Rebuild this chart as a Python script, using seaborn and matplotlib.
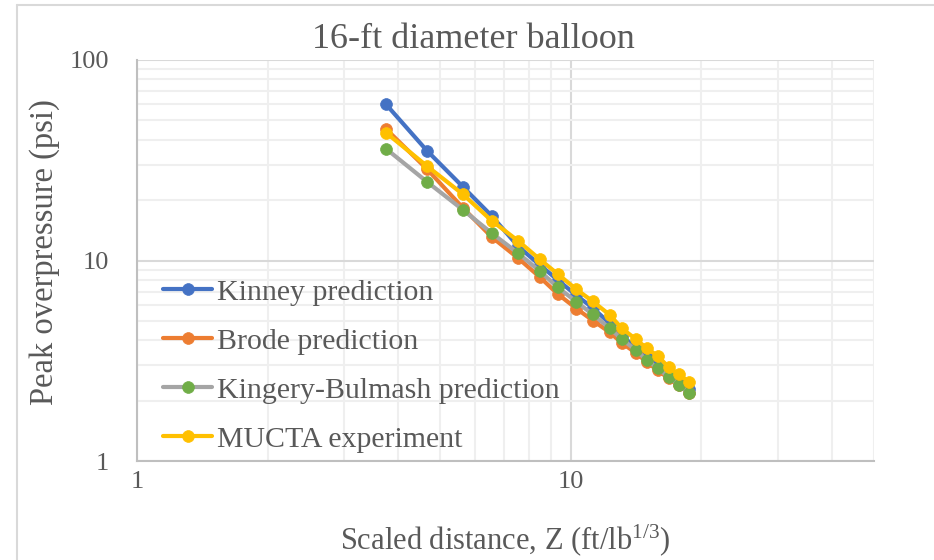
import matplotlib
matplotlib.use("Agg")
import matplotlib.pyplot as plt
from matplotlib.lines import Line2D
import seaborn as sns
import pandas as pd

# ---- data ----
z = [3.75, 4.66, 5.64, 6.57, 7.55, 8.48, 9.33, 10.3, 11.24, 12.3, 13.11,
     14.12, 14.96, 15.87, 16.82, 17.74, 18.7]
kinney = [60.1, 35.3, 23.3, 16.7, 11.8, 9.5, 8.0, 6.7, 5.8, 4.85, 4.2,
          3.7, 3.3, 3.0, 2.72, 2.48, 2.28]
brode = [45.3, 28.6, 18.3, 13.1, 10.3, 8.27, 6.81, 5.76, 5.02, 4.38, 3.88,
         3.46, 3.12, 2.83, 2.58, 2.38, 2.19]
kingery = [36.1, 24.7, 17.9, 13.7, 10.9, 8.86, 7.35, 6.23, 5.38, 4.59, 4.05,
           3.58, 3.19, 2.90, 2.62, 2.39, 2.19]
mucta = [43.4, 29.6, 21.4, 15.8, 12.56, 10.14, 8.56, 7.18, 6.25, 5.35, 4.59,
         4.05, 3.65, 3.34, 2.93, 2.71, 2.49]

series_names = ["Kinney prediction", "Brode prediction",
                "Kingery-Bulmash prediction", "MUCTA experiment"]
title = "16-ft diameter balloon"
xlabel = "Scaled distance, Z (ft/lb$^{1/3}$)"
ylabel = "Peak overpressure (psi)"
xticks = [1, 10]
yticks = [1, 10, 100]

# ---- styling ----
sns.set_theme(style="white")
plt.rcParams["font.family"] = ["Liberation Serif", "DejaVu Serif"]
plt.rcParams["mathtext.fontset"] = "custom"
plt.rcParams["mathtext.rm"] = "Liberation Serif"
plt.rcParams["mathtext.it"] = "Liberation Serif"
TXT = "#595959"

fig = plt.figure(figsize=(9.34, 5.6), dpi=100)
W, H = 934, 560
ax = fig.add_axes([137 / W, 1 - 461 / H, (874 - 137) / W, (461 - 60) / H])

line_colors = ["#4472C4", "#ED7D31", "#A5A5A5", "#FFC000"]
marker_colors = ["#4472C4", "#ED7D31", "#70AD47", "#FFC000"]
values = [kinney, brode, kingery, mucta]

for name, vals, lc, mc in zip(series_names, values, line_colors, marker_colors):
    df = pd.DataFrame({"z": z, "p": vals})
    sns.lineplot(data=df, x="z", y="p", ax=ax, color=lc, linewidth=3.0,
                 marker="o", markersize=8.5, markerfacecolor=mc,
                 markeredgecolor=mc, markeredgewidth=0.5, label=name,
                 solid_capstyle="round", zorder=3)

ax.set_xscale("log")
ax.set_yscale("log")
ax.set_xlim(1, 50)
ax.set_ylim(1, 100)

ax.set_xticks(xticks)
ax.set_xticklabels([str(t) for t in xticks])
ax.set_yticks(yticks)
ax.set_yticklabels([str(t) for t in yticks])
ax.xaxis.set_minor_locator(matplotlib.ticker.LogLocator(base=10, subs=range(2, 10)))
ax.yaxis.set_minor_locator(matplotlib.ticker.LogLocator(base=10, subs=range(2, 10)))
ax.xaxis.set_minor_formatter(matplotlib.ticker.NullFormatter())
ax.yaxis.set_minor_formatter(matplotlib.ticker.NullFormatter())

ax.grid(True, which="major", color="#d9d9d9", linewidth=1.5, zorder=0)
ax.grid(True, which="minor", color="#efefef", linewidth=1.5, zorder=0)
ax.set_axisbelow(True)
ax.tick_params(axis="both", which="both", length=0, labelsize=19,
               labelcolor=TXT)
ax.tick_params(axis="x", pad=7)
ax.tick_params(axis="y", pad=20)

for s in ["top", "right"]:
    ax.spines[s].set_visible(False)
for s in ["left", "bottom"]:
    ax.spines[s].set_color("#bfbfbf")
    ax.spines[s].set_linewidth(1.5)

ax.set_xlabel(xlabel, fontsize=22, color=TXT, labelpad=21)
ax.set_ylabel(ylabel, fontsize=23.5, color=TXT)
ax.yaxis.set_label_coords((60 - 137) / 737, (461 - 252) / 401)

fig.text(473 / W, 1 - 40 / H, title, ha="center", va="center",
         fontsize=26, color=TXT)

leg = ax.legend(loc="upper left", bbox_to_anchor=(163 / W, 1 - 279 / H),
                bbox_transform=fig.transFigure, frameon=False, fontsize=21.5,
                handlelength=1.65, handletextpad=0.17, labelspacing=0.74,
                borderpad=0, borderaxespad=0)
for t in leg.get_texts():
    t.set_color(TXT)

# chart-area border
fig.add_artist(Line2D([17 / W, 17 / W], [0, 1 - 5 / H], color="#d9d9d9",
                      linewidth=1.5, transform=fig.transFigure))
fig.add_artist(Line2D([17 / W, 1], [1 - 5 / H, 1 - 5 / H], color="#d9d9d9",
                      linewidth=1.5, transform=fig.transFigure))

fig.savefig("out.png", dpi=100)
